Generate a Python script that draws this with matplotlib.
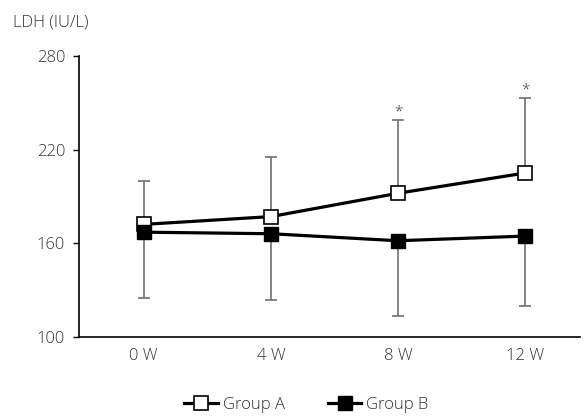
import matplotlib.pyplot as plt

plt.rcParams['font.family'] = ['Open Sans', 'DejaVu Sans']
plt.rcParams['font.weight'] = 'light'

weeks = ['0 W', '4 W', '8 W', '12 W']
group_a = [172, 177, 192, 205]
group_a_sd = [28, 38, 47, 48]
group_b = [167, 166, 161.5, 164.5]
group_b_sd = [42.5, 42.5, 48, 45]
signif = [False, False, True, True]

x = list(range(len(weeks)))

fig = plt.figure(figsize=(5.84, 4.16), dpi=100)
ax = fig.add_axes([0.135, 0.191, 0.858, 0.674])

# error bars: A upward only, B downward only
ax.errorbar(x, group_a, yerr=[[0] * 4, group_a_sd], fmt='none', ecolor='#707070',
            elinewidth=1.2, capsize=4, capthick=1.2, zorder=1)
ax.errorbar(x, group_b, yerr=[group_b_sd, [0] * 4], fmt='none', ecolor='#707070',
            elinewidth=1.2, capsize=4, capthick=1.2, zorder=1)

ax.plot(x, group_a, color='black', lw=2.3, marker='s', ms=9.5, mfc='white',
        mec='black', mew=1.2, label='Group A', zorder=3)
ax.plot(x, group_b, color='black', lw=2.3, marker='s', ms=9.5, mfc='black',
        mec='black', label='Group B', zorder=4)

for i, s in enumerate(signif):
    if s:
        ax.text(x[i], group_a[i] + group_a_sd[i] + 0.5, '*', ha='center', va='bottom',
                fontsize=11, color='#404040')

ax.set_xlim(-0.51, 3.43)
ax.set_ylim(100, 280)
ax.set_yticks([100, 160, 220, 280])
ax.set_xticks(x)
ax.set_xticklabels(weeks)
ax.tick_params(axis='x', length=0, pad=8, labelsize=12, labelcolor='#333333')
ax.tick_params(axis='y', length=4, width=1, direction='out', labelsize=12, labelcolor='#333333', pad=6)
ax.spines['top'].set_visible(False)
ax.spines['right'].set_visible(False)
ax.spines['left'].set_linewidth(1.2)
ax.spines['bottom'].set_linewidth(1.2)

fig.text(0.022, 0.947, 'LDH (IU/L)', fontsize=12, color='#333333', va='center')

fig.legend(loc='center', bbox_to_anchor=(0.525, 0.027), ncol=2, frameon=False,
           fontsize=12, handlelength=2.0, handletextpad=0.3, columnspacing=2.6,
           labelcolor='#333333')

fig.savefig('out.png', dpi=100)
